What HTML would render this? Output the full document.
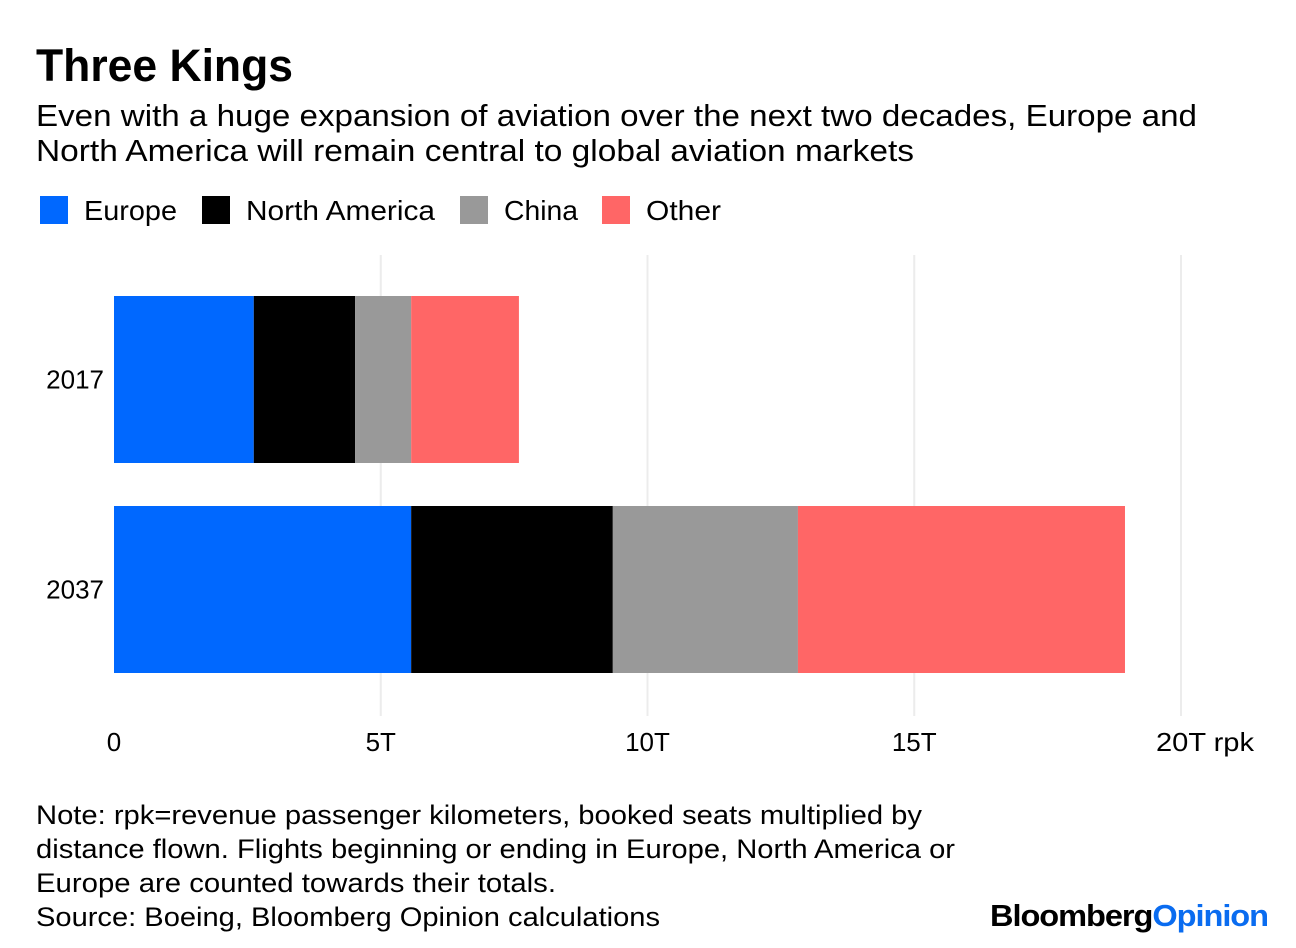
<!DOCTYPE html>
<html><head><meta charset="utf-8"><style>
html,body{margin:0;padding:0;background:#fff;}
svg{display:block;font-family:"Liberation Sans",sans-serif;}
</style></head><body>
<svg id="chart" width="1296" height="948" viewBox="0 0 1296 948" xmlns="http://www.w3.org/2000/svg">
<text x="36" y="81" font-size="45" font-weight="bold" fill="#000" textLength="257" lengthAdjust="spacingAndGlyphs">Three Kings</text>
<text font-size="31" fill="#000">
<tspan x="36" y="126" textLength="1161" lengthAdjust="spacingAndGlyphs">Even with a huge expansion of aviation over the next two decades, Europe and</tspan>
<tspan x="36" y="161" textLength="878" lengthAdjust="spacingAndGlyphs">North America will remain central to global aviation markets</tspan>
</text>
<g id="legend"></g>
<g id="grid"></g>
<g id="bars"></g>
<g id="yaxis"></g>
<g id="xaxis"></g>
<text font-size="27" fill="#000">
<tspan x="36" y="824" textLength="886" lengthAdjust="spacingAndGlyphs">Note: rpk=revenue passenger kilometers, booked seats multiplied by</tspan>
<tspan x="36" y="858" textLength="919" lengthAdjust="spacingAndGlyphs">distance flown. Flights beginning or ending in Europe, North America or</tspan>
<tspan x="36" y="892" textLength="520" lengthAdjust="spacingAndGlyphs">Europe are counted towards their totals.</tspan>
<tspan x="36" y="926" textLength="624" lengthAdjust="spacingAndGlyphs">Source: Boeing, Bloomberg Opinion calculations</tspan>
</text>
<text x="990" y="926" font-size="31" font-weight="bold" textLength="278" lengthAdjust="spacingAndGlyphs" letter-spacing="-1"><tspan fill="#000">Bloomberg</tspan><tspan fill="#0a6cf0">Opinion</tspan></text>
</svg>
<script>
const categories = ["2017", "2037"];
const seriesNames = ["Europe", "North America", "China", "Other"];
const europe = [2.62, 5.57];
const northAmerica = [1.9, 3.78];
const china = [1.05, 3.47];
const other = [2.02, 6.13];
const tickValues = [0, 5, 10, 15, 20];
const tickLabels = ["0", "5T", "10T", "15T", "20T rpk"];
const colors = ["#0068ff", "#000000", "#999999", "#ff6666"];
const NS = "http://www.w3.org/2000/svg";
const x0 = 114, pxPerT = 53.35;
function xScale(v){ return x0 + v * pxPerT; }
const bandTop = 296, bandStep = 210, barH = 167;
function yScale(i){ return bandTop + i * bandStep; }
function mk(tag, attrs, parent){ const e = document.createElementNS(NS, tag); for (const k in attrs) e.setAttribute(k, attrs[k]); parent.appendChild(e); return e; }
const grid = document.getElementById('grid');
tickValues.forEach((t, i) => {
  if (t === 0) return;
  const l = mk('line', {x1: xScale(t), x2: xScale(t), y1: 255, y2: 716, stroke: '#ececec', 'stroke-width': 2}, grid);
  
  
});
const xaxis = document.getElementById('xaxis');
tickValues.forEach((t, i) => {
  const last = i === tickLabels.length - 1;
  const tx = mk('text', {x: last ? xScale(t) - 25 : xScale(t), y: 751, 'font-size': 26, 'text-anchor': last ? 'start' : 'middle'}, xaxis);
  if (last) { tx.setAttribute('textLength', 98); tx.setAttribute('lengthAdjust', 'spacingAndGlyphs'); }
  tx.textContent = tickLabels[i];
  
  
});
const series = [europe, northAmerica, china, other];
const bars = document.getElementById('bars');
const yaxis = document.getElementById('yaxis');
categories.forEach((c, ci) => {
  let acc = 0;
  series.forEach((s, si) => {
    const r = mk('rect', {x: xScale(acc), y: yScale(ci), width: xScale(acc + s[ci]) - xScale(acc), height: barH, fill: colors[si]}, bars);
    
    
    acc += s[ci];
  });
  const t = mk('text', {x: 104, y: yScale(ci) + barH / 2 + 9, 'font-size': 26, 'text-anchor': 'end'}, yaxis);
  t.textContent = c;
  
  
});
const legend = document.getElementById('legend');
const legendX = [40, 202, 460, 602];
const legendW = [137, 233, 118, 119];
seriesNames.forEach((n, i) => {
  const g = mk('g', {}, legend);
  
  
  mk('rect', {x: legendX[i], y: 196, width: 28, height: 28, fill: colors[i]}, g);
  const t = mk('text', {x: legendX[i] + 44, y: 220, 'font-size': 28, textLength: legendW[i] - 44, lengthAdjust: 'spacingAndGlyphs'}, g);
  t.textContent = n;
});
</script>
</body></html>
